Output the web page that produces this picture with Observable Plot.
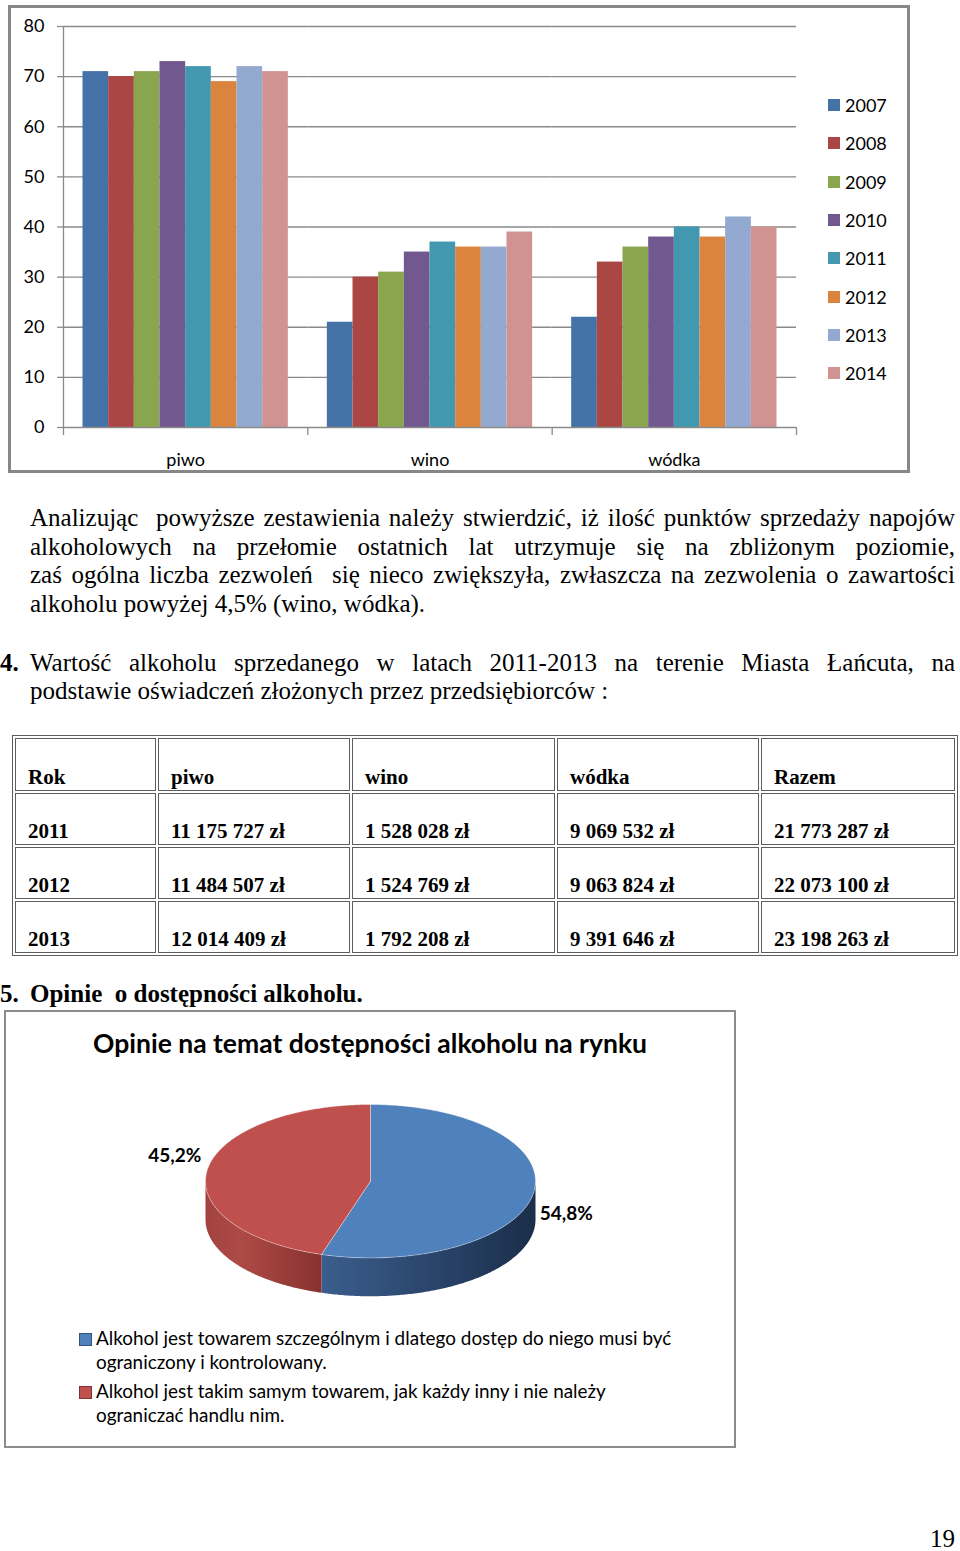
<!DOCTYPE html>
<html>
<head>
<meta charset="utf-8">
<script src="https://cdn.jsdelivr.net/npm/d3@7"></script>
<script src="https://cdn.jsdelivr.net/npm/@observablehq/plot@0.6"></script>
<style>
html, body { margin: 0; padding: 0; background: #fff; }
#page { position: relative; width: 960px; height: 1551px; overflow: hidden; font-family: "Liberation Serif", serif; color: #000; }
.abs { position: absolute; }
#barBox { left: 8px; top: 5px; width: 896px; height: 462px; border: 3px solid #878787; }
#barBox svg { position: absolute; left: 0; top: 0; }
.legItem { position: absolute; display: flex; align-items: center; height: 24px; font-family: Lato, sans-serif; font-size: 18px; }
.sw { width: 12px; height: 12px; margin-right: 5px; flex: none; }
.tline { position: absolute; left: 30px; width: 925px; font-size: 25px; line-height: 28.75px; white-space: pre; }
.just { text-align: justify; text-align-last: justify; white-space: pre-wrap; }
#tbl { position: absolute; left: 12px; top: 735px; width: 946px; border-collapse: separate; border-spacing: 2px; border: 1px solid #5e5e5e; table-layout: fixed; font-family: "Liberation Serif", serif; font-weight: bold; font-size: 21px; }
#tbl td { border: 1px solid #5e5e5e; padding: 0 0 2px 12px; vertical-align: bottom; line-height: 21px; box-sizing: border-box; white-space: nowrap; }
#pieBox { left: 4px; top: 1010px; width: 728px; height: 434px; border: 2px solid #8c8c8c; }
#pieBox svg { position: absolute; left: 0; top: 0; }
#pieTitle { position: absolute; left: 0; top: 16px; width: 728px; text-align: center; font-family: Lato, sans-serif; font-weight: bold; font-size: 26.5px; line-height: 30px; }
.pieLeg { position: absolute; font-family: Lato, sans-serif; font-size: 18.9px; line-height: 24px; white-space: pre-line; }
.pieSw { position: absolute; width: 11px; height: 11px; border: 1px solid rgba(0,0,0,0.35); }
</style>
</head>
<body>
<svg width="0" height="0" style="position:absolute">
  <defs>
    <linearGradient id="sideBlue" x1="0" x2="1" y1="0" y2="0">
      <stop offset="0" stop-color="#3b5e8c"/>
      <stop offset="0.45" stop-color="#2c4870"/>
      <stop offset="1" stop-color="#1b2e4a"/>
    </linearGradient>
    <linearGradient id="sideRed" x1="0" x2="1" y1="0" y2="0">
      <stop offset="0" stop-color="#a24240"/>
      <stop offset="0.3" stop-color="#ae4a46"/>
      <stop offset="1" stop-color="#873230"/>
    </linearGradient>
  </defs>
</svg>
<div id="page">
  <div id="barBox" class="abs"></div>
  <div id="barLegend"></div>

  <div class="tline just" style="top:503.9px">Analizując  powyższe zestawienia należy stwierdzić, iż ilość punktów sprzedaży napojów</div>
  <div class="tline just" style="top:532.65px">alkoholowych na przełomie ostatnich lat utrzymuje się na zbliżonym poziomie,</div>
  <div class="tline just" style="top:561.4px">zaś ogólna liczba zezwoleń  się nieco zwiększyła, zwłaszcza na zezwolenia o zawartości</div>
  <div class="tline" style="top:590.15px">alkoholu powyżej 4,5% (wino, wódka).</div>

  <div class="tline" style="top:648.6px;left:0;width:30px;font-weight:bold">4.</div>
  <div class="tline just" style="top:648.6px">Wartość alkoholu sprzedanego w latach 2011-2013 na terenie Miasta Łańcuta, na</div>
  <div class="tline" style="top:677.35px">podstawie oświadczeń złożonych przez przedsiębiorców :</div>

  <table id="tbl"><colgroup id="cols"></colgroup><tbody id="tbody"></tbody></table>

  <div class="tline" style="top:979.7px;left:0;width:30px;font-weight:bold">5.</div>
  <div class="tline" style="top:979.7px;font-weight:bold">Opinie  o dostępności alkoholu.</div>

  <div id="pieBox" class="abs">
    <div id="pieTitle">Opinie na temat dostępności alkoholu na rynku</div>
  </div>
  <div id="pieLegend"></div>

  <div class="tline" style="top:1525.2px;left:900px;width:55px;text-align:right">19</div>
</div>
<script>
// ---------- Chart 1 data ----------
const categories = ["piwo", "wino", "wódka"];
const years = ["2007", "2008", "2009", "2010", "2011", "2012", "2013", "2014"];
const piwoValues = [71, 70, 71, 73, 72, 69, 72, 71];
const winoValues = [21, 30, 31, 35, 37, 36, 36, 39];
const wodkaValues = [22, 33, 36, 38, 40, 38, 42, 40];
const yearColors = ["#4572a7", "#aa4643", "#89a54e", "#71588f", "#4198af", "#db843d", "#93a9cf", "#d19392"];
const yTicks = [0, 10, 20, 30, 40, 50, 60, 70, 80];

// ---------- Table data ----------
const tableHeader = ["Rok", "piwo", "wino", "wódka", "Razem"];
const tableYears = ["2011", "2012", "2013"];
const tablePiwo = [11175727, 11484507, 12014409];
const tableWino = [1528028, 1524769, 1792208];
const tableWodka = [9069532, 9063824, 9391646];
const tableRazem = [21773287, 22073100, 23198263];

// ---------- Chart 2 data ----------
const opinionLabels = [
  "Alkohol jest towarem szczególnym i dlatego dostęp do niego musi być\nograniczony i kontrolowany.",
  "Alkohol jest takim samym towarem, jak każdy inny i nie należy\nograniczać handlu nim."
];
const opinionShares = [54.8, 45.2];
const opinionColors = ["#4f81bd", "#c0504d"];
const opinionSideFills = ["url(#sideBlue)", "url(#sideRed)"];

// ================= Bar chart =================
const seriesByCategory = [piwoValues, winoValues, wodkaValues];
const rows = categories.flatMap((c, ci) => years.map((y, yi) => ({category: c, year: y, value: seriesByCategory[ci][yi]})));

const W = 896, H = 462, ML = 52, MR = 111, MT = 18, MB = 43;
const xPadOuter = 0.76;
const facetW = (W - ML - MR) / categories.length;
const step = facetW / (years.length + 2 * xPadOuter);
const edge = (xPadOuter + 0.5) * step;
const gridColor = "#8a8a8a";

const bar = Plot.plot({
  width: W, height: H,
  marginLeft: ML, marginRight: MR, marginTop: MT, marginBottom: MB,
  style: {background: "transparent", fontFamily: "Lato, sans-serif", fontSize: "18px", color: "#000"},
  fx: {domain: categories, padding: 0, round: false},
  x: {domain: years, paddingInner: 0, paddingOuter: xPadOuter, round: false, axis: null},
  y: {domain: [0, 80]},
  color: {domain: years, range: yearColors},
  marks: [
    Plot.ruleY(yTicks.filter(t => t > 0), {stroke: gridColor, strokeWidth: 1.3}),
    Plot.barY(rows, {fx: "category", x: "year", y: "value", fill: "year"}),
    Plot.ruleY([0], {stroke: gridColor, strokeWidth: 1.3}),
    Plot.ruleX(categories, {fx: d => d, x: () => years[0], dx: -edge, y1: 0, y2: -1.6, stroke: gridColor, strokeWidth: 1.3}),
    Plot.ruleX([categories[0]], {fx: d => d, x: () => years[0], dx: -edge, y1: 0, y2: 80, stroke: gridColor, strokeWidth: 1.3}),
    Plot.ruleX([categories[categories.length - 1]], {fx: d => d, x: () => years[years.length - 1], dx: edge, y1: 0, y2: -1.6, stroke: gridColor, strokeWidth: 1.3}),
    Plot.axisY(yTicks, {tickSize: 6, tickPadding: 13, stroke: gridColor, strokeWidth: 1.3, label: null, fontSize: 18, fill: "#000"}),
    Plot.axisFx({anchor: "bottom", tickSize: 0, tickPadding: 26, label: null, fontSize: 18, fill: "#000"})
  ]
});
document.getElementById("barBox").appendChild(bar);

// legend
const barLegend = document.getElementById("barLegend");
years.forEach((y, i) => {
  const item = document.createElement("div");
  item.className = "legItem";
  item.style.left = "828px";
  item.style.top = (93 + i * 38.3) + "px";
  item.innerHTML = `<span class="sw" style="background:${yearColors[i]}"></span><span>${y}</span>`;
  barLegend.appendChild(item);
});

// ================= Table =================
const fmtZl = n => d3.format(",")(n).replace(/,/g, " ") + " zł";
const colWidths = [141, 192, 203, 202, 194];
const cols = document.getElementById("cols");
colWidths.forEach(w => { const c = document.createElement("col"); c.style.width = w + "px"; cols.appendChild(c); });
const tbody = document.getElementById("tbody");
const tableRows = [tableHeader, ...tableYears.map((y, i) => [y, fmtZl(tablePiwo[i]), fmtZl(tableWino[i]), fmtZl(tableWodka[i]), fmtZl(tableRazem[i])])];
tableRows.forEach((r, ri) => {
  const tr = document.createElement("tr");
  r.forEach(v => {
    const td = document.createElement("td");
    td.textContent = v;
    td.style.height = (ri === 0 ? 53 : 52) + "px";
    tr.appendChild(td);
  });
  tbody.appendChild(tr);
});

// ================= 3D pie =================
const depth = 0.5;
const pieArcs = d3.pie().sort(null).value(d => d)(opinionShares);
const N = 160;
const arcPts = (a0, a1, dy) => d3.range(N + 1).map(i => {
  const a = a0 + (a1 - a0) * i / N;
  return {x: Math.sin(a), y: Math.cos(a) - dy};
});
const pieMarks = [];
pieArcs.forEach((p, i) => {
  const s = Math.max(p.startAngle, Math.PI / 2), e = Math.min(p.endAngle, 3 * Math.PI / 2);
  if (e > s) {
    pieMarks.push(Plot.line([...arcPts(s, e, 0), ...arcPts(e, s, depth)], {x: "x", y: "y", fill: opinionSideFills[i], stroke: "none"}));
  }
});
pieArcs.forEach((p, i) => {
  pieMarks.push(Plot.line([{x: 0, y: 0}, ...arcPts(p.startAngle, p.endAngle, 0), {x: 0, y: 0}],
    {x: "x", y: "y", fill: opinionColors[i], stroke: "#ffffff", strokeOpacity: 0.35, strokeWidth: 1}));
});
const labelR = 1.2;
const pieLabels = pieArcs.map((p, i) => {
  const m = (p.startAngle + p.endAngle) / 2, c = Math.cos(m);
  return {x: labelR * Math.sin(m), y: labelR * c + (c < 0 ? -depth / 2 : depth * 0.3), text: opinionShares[i].toFixed(1).replace(".", ",") + "%"};
});
pieMarks.push(Plot.text(pieLabels, {x: "x", y: "y", text: "text", fontWeight: "bold", fontSize: 19, fill: "#000"}));

const pie = Plot.plot({
  width: 728, height: 434,
  marginLeft: 199, marginRight: 199, marginTop: 92, marginBottom: 188.6,
  style: {background: "transparent", fontFamily: "Lato, sans-serif", overflow: "visible"},
  x: {domain: [-1, 1], axis: null},
  y: {domain: [-1, 1], axis: null},
  marks: pieMarks
});
document.getElementById("pieBox").appendChild(pie);

// pie legend
const pieLegend = document.getElementById("pieLegend");
const legTops = [1326, 1379];
opinionLabels.forEach((t, i) => {
  const sw = document.createElement("div");
  sw.className = "pieSw";
  sw.style.background = opinionColors[i];
  sw.style.left = "79px";
  sw.style.top = (legTops[i] + 7) + "px";
  pieLegend.appendChild(sw);
  const tx = document.createElement("div");
  tx.className = "pieLeg";
  tx.style.left = "96px";
  tx.style.top = legTops[i] + "px";
  tx.textContent = t;
  pieLegend.appendChild(tx);
});
</script>
</body>
</html>
